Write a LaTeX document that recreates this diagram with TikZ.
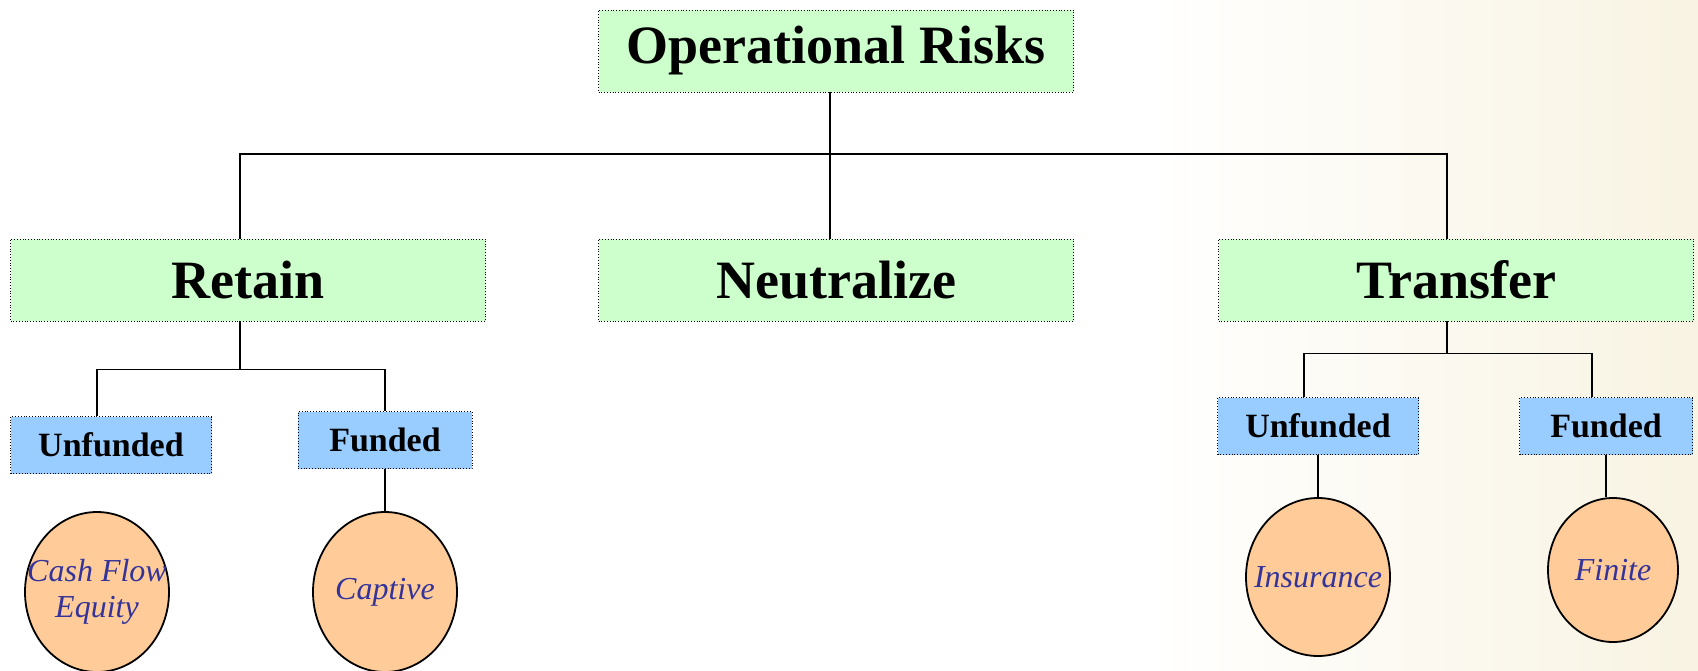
\documentclass[tikz,border=0pt]{standalone}
\usepackage{fontspec}
\setmainfont{Liberation Serif}
\usetikzlibrary{shapes}

\definecolor{boxgreen}{RGB}{204,255,204}
\definecolor{boxblue}{RGB}{153,204,255}
\definecolor{peach}{RGB}{255,204,153}
\definecolor{inkblue}{RGB}{51,51,153}
\definecolor{cream}{RGB}{248,243,226}

\begin{document}
\begin{tikzpicture}[x=0.5pt, y=-0.5pt, line width=0.9pt,
head/.style={rectangle, draw, densely dotted, thin, fill=boxgreen, minimum width=237.5pt, minimum height=41pt, font=\fontsize{27}{30}\selectfont\bfseries},
branch/.style={rectangle, draw, densely dotted, thin, fill=boxblue, minimum height=28.5pt, font=\fontsize{17}{20}\selectfont\bfseries},
cover/.style={ellipse, draw, fill=peach, inner sep=0pt},
covertext/.style={text=inkblue, align=center, font=\fontsize{16}{18}\selectfont\itshape}]
\useasboundingbox (0,0) rectangle (1698,670);

%backdrop
\shade[left color=white, right color=cream, draw=none] (1150,0) rectangle (1698,670);

%top level
\node[head] (ops) at (836,51) {Operational Risks};
%second level
\node[head] (ret) at (248,280) {Retain};
\node[head] (neu) at (836,280) {Neutralize};
\node[head] (trn) at (1456,280) {Transfer};
%funding
\node[branch, minimum width=100.5pt] (runf) at (111,445) {Unfunded};
\node[branch, minimum width=87pt] (rfun) at (385,440) {Funded};
\node[branch, minimum width=100.5pt] (tunf) at (1318,426) {Unfunded};
\node[branch, minimum width=86.5pt] (tfun) at (1606,426) {Funded};
%instruments
\node[cover, minimum width=72pt, minimum height=80pt, label={[covertext]center:Cash Flow\\Equity}] (cfe) at (97,592) {};
\node[cover, minimum width=72pt, minimum height=80pt, label={[covertext]center:Captive}] (cap) at (385,592) {};
\node[cover, minimum width=72pt, minimum height=79pt, label={[covertext]center:Insurance}] (ins) at (1318,577) {};
\node[cover, minimum width=65pt, minimum height=72pt, label={[covertext]center:Finite}] (fin) at (1613,570) {};

%tree lines
\coordinate (top) at (830,154);
\draw ([xshift=-3pt]ops.south) -- ([xshift=-3pt]neu.north);
\draw ([xshift=-4pt]ret.north) |- (top) -| ([xshift=-4.5pt]trn.north);
\draw ([xshift=-4pt]ret.south) -- ++(0,48) coordinate (rj);
\draw ([xshift=-7pt]runf.north) |- (rj) -| (rfun.north);
\draw ([xshift=-4.5pt]trn.south) -- ++(0,32) coordinate (tj);
\draw ([xshift=-7pt]tunf.north) |- (tj) -| ([xshift=-7pt]tfun.north);
\draw (rfun) -- (cap);
\draw (tunf) -- (ins);
\draw (tfun.south) -- (tfun.south |- fin.north);
\end{tikzpicture}
\end{document}
